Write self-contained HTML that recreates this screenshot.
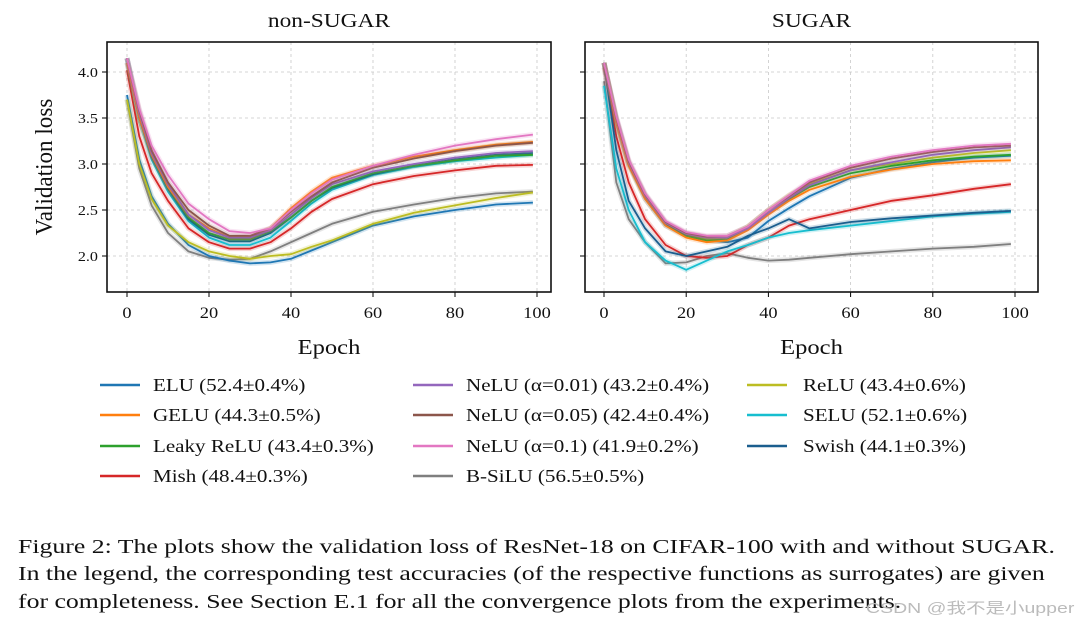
<!DOCTYPE html>
<html><head><meta charset="utf-8"><style>
body{margin:0;background:#fff;width:1080px;height:624px;overflow:hidden;font-family:"Liberation Serif",serif}
svg text{font-family:"Liberation Serif",serif;fill:#111}
.cap{position:absolute;left:18px;font-size:20.5px;color:#111;white-space:nowrap;line-height:1;transform-origin:0 0;transform:scaleX(1.257)}
</style></head><body>
<svg id="fig" width="1080" height="624" style="position:absolute;left:0;top:0"></svg>
<div class="cap" style="top:537px">Figure 2: The plots show the validation loss of ResNet-18 on CIFAR-100 with and without SUGAR.</div>
<div class="cap" style="top:564px">In the legend, the corresponding test accuracies (of the respective functions as surrogates) are given</div>
<div class="cap" style="top:592px">for completeness. See Section E.1 for all the convergence plots from the experiments.</div>
<div style="position:absolute;left:866px;top:597px;font-size:15px;color:#bbb;font-family:'Liberation Sans','Noto Sans CJK SC',sans-serif;transform-origin:0 0;transform:scaleX(1.3)">CSDN @我不是小upper</div>
<script>
const epochs=[0,3,6,10,15,20,25,30,35,40,45,50,60,70,80,90,99];
const names=["ELU","GELU","Leaky ReLU","Mish","NeLU (α=0.01)","NeLU (α=0.05)","NeLU (α=0.1)","B-SiLU","ReLU","SELU","Swish"];
const accs=["52.4±0.4%","44.3±0.5%","43.4±0.3%","48.4±0.3%","43.2±0.4%","42.4±0.4%","41.9±0.2%","56.5±0.5%","43.4±0.6%","52.1±0.6%","44.1±0.3%"];
const colors=["#1f77b4","#ff7f0e","#2ca02c","#d62728","#9467bd","#8c564b","#e377c2","#7f7f7f","#bcbd22","#17becf","#1b5e8e"];
const yTicks=[2.0,2.5,3.0,3.5,4.0];
const xTicks=[0,20,40,60,80,100];
const nsELU=[3.75,3.05,2.65,2.35,2.12,2.0,1.95,1.92,1.93,1.97,2.06,2.15,2.33,2.43,2.5,2.56,2.58];
const nsGELU=[4.1,3.5,3.1,2.75,2.45,2.3,2.2,2.2,2.3,2.52,2.7,2.85,2.98,3.08,3.15,3.21,3.24];
const nsLeaky=[4.15,3.5,3.1,2.75,2.42,2.25,2.18,2.18,2.27,2.42,2.6,2.75,2.9,2.98,3.04,3.09,3.1];
const nsMish=[4.02,3.3,2.9,2.6,2.3,2.15,2.08,2.08,2.15,2.3,2.48,2.62,2.78,2.87,2.93,2.98,2.99];
const nsN01=[4.15,3.55,3.12,2.78,2.45,2.28,2.2,2.2,2.28,2.45,2.63,2.78,2.92,3.0,3.07,3.12,3.14];
const nsN05=[4.15,3.58,3.15,2.8,2.5,2.33,2.22,2.22,2.3,2.48,2.65,2.8,2.96,3.06,3.14,3.2,3.23];
const nsN1=[4.15,3.6,3.2,2.88,2.57,2.4,2.27,2.25,2.3,2.5,2.68,2.83,2.98,3.1,3.2,3.27,3.32];
const nsBSiLU=[3.7,2.95,2.55,2.25,2.05,1.98,1.96,1.97,2.05,2.15,2.25,2.35,2.48,2.56,2.63,2.68,2.7];
const nsReLU=[3.7,3.0,2.62,2.33,2.15,2.05,2.0,1.97,2.0,2.02,2.1,2.17,2.35,2.47,2.55,2.63,2.69];
const nsSELU=[4.15,3.5,3.05,2.7,2.38,2.2,2.12,2.12,2.2,2.38,2.57,2.72,2.88,2.97,3.03,3.07,3.1];
const nsSwish=[4.1,3.5,3.08,2.73,2.4,2.23,2.16,2.16,2.25,2.42,2.6,2.74,2.89,2.98,3.05,3.1,3.12];
const sgELU=[4.1,3.45,3.0,2.62,2.33,2.22,2.17,2.15,2.2,2.38,2.52,2.65,2.85,2.95,3.02,3.07,3.09];
const sgGELU=[4.1,3.45,2.98,2.62,2.33,2.2,2.15,2.17,2.28,2.45,2.6,2.72,2.86,2.94,3.0,3.03,3.04];
const sgLeaky=[4.1,3.48,3.0,2.65,2.35,2.22,2.17,2.18,2.3,2.47,2.62,2.75,2.9,2.98,3.04,3.08,3.1];
const sgMish=[4.05,3.3,2.8,2.4,2.12,2.0,1.98,2.0,2.12,2.2,2.33,2.4,2.5,2.6,2.66,2.73,2.78];
const sgN01=[4.1,3.5,3.02,2.66,2.36,2.24,2.2,2.2,2.3,2.47,2.63,2.77,2.93,3.02,3.1,3.15,3.18];
const sgN05=[4.1,3.5,3.03,2.67,2.37,2.25,2.21,2.22,2.32,2.5,2.65,2.8,2.96,3.06,3.13,3.18,3.2];
const sgN1=[4.1,3.52,3.05,2.68,2.38,2.26,2.22,2.22,2.32,2.5,2.66,2.82,2.98,3.08,3.15,3.2,3.22];
const sgBSiLU=[3.9,2.8,2.4,2.15,1.92,1.93,2.0,2.03,1.98,1.95,1.96,1.98,2.02,2.05,2.08,2.1,2.13];
const sgReLU=[4.1,3.48,3.02,2.65,2.35,2.23,2.18,2.2,2.32,2.5,2.66,2.78,2.93,3.0,3.07,3.12,3.15];
const sgSELU=[3.85,2.95,2.5,2.15,1.95,1.85,1.95,2.05,2.12,2.2,2.25,2.28,2.33,2.38,2.43,2.46,2.48];
const sgSwish=[4.1,3.15,2.6,2.3,2.05,2.0,2.05,2.1,2.22,2.3,2.4,2.3,2.37,2.41,2.44,2.47,2.49];
const nsSeries=[nsELU,nsGELU,nsLeaky,nsMish,nsN01,nsN05,nsN1,nsBSiLU,nsReLU,nsSELU,nsSwish];
const sgSeries=[sgELU,sgGELU,sgLeaky,sgMish,sgN01,sgN05,sgN1,sgBSiLU,sgReLU,sgSELU,sgSwish];

const NS="http://www.w3.org/2000/svg";
const svg=document.getElementById('fig');
function mk(tag,attrs,parent){const e=document.createElementNS(NS,tag);for(const k in attrs)e.setAttribute(k,attrs[k]);(parent||svg).appendChild(e);return e;}
function stretch(t,x,y,s){t.setAttribute('transform','translate('+x+','+y+') scale('+s+',1) translate('+(-x)+','+(-y)+')');}
const Y=v=>256-(v-2.0)*92;
function panel(title,x0,x1,boxL,boxR,series,showY,key){
  const X=e=>x0+(e/100)*(x1-x0);
  const g=mk('g',{});
  
  
  const top=42,bot=292;
  yTicks.forEach(t=>{const l=mk('line',{x1:boxL,x2:boxR,y1:Y(t),y2:Y(t),stroke:'#c8c8c8','stroke-dasharray':'3,3','stroke-width':0.8},g);
    
    mk('line',{x1:boxL-5,x2:boxL,y1:Y(t),y2:Y(t),stroke:'#000','stroke-width':1},g);
    if(showY){const tx=mk('text',{x:boxL-9,y:Y(t)+5,'text-anchor':'end','font-size':14},g);tx.textContent=t.toFixed(1);
      stretch(tx,boxL-9,Y(t),1.15);
      }});
  xTicks.forEach(t=>{const l=mk('line',{x1:X(t),x2:X(t),y1:top,y2:bot,stroke:'#c8c8c8','stroke-dasharray':'3,3','stroke-width':0.8},g);
    
    mk('line',{x1:X(t),x2:X(t),y1:bot,y2:bot+5,stroke:'#000','stroke-width':1},g);
    const tx=mk('text',{x:X(t),y:bot+26,'text-anchor':'middle','font-size':16},g);tx.textContent=t;
    stretch(tx,X(t),bot+26,1.15);
    });
  const clip=mk('clipPath',{id:'c'+key},g);mk('rect',{x:boxL,y:top,width:boxR-boxL,height:bot-top},clip);
  const order=[7,0,8,3,9,10,2,1,4,5,6];
  order.forEach(i=>{const d=series[i].map((v,j)=>(j?'L':'M')+X(epochs[j]).toFixed(1)+','+Y(v).toFixed(1)).join('');
    const halo=mk('path',{d:d,fill:'none',stroke:colors[i],'stroke-opacity':0.2,'stroke-width':5,'clip-path':'url(#c'+key+')'},g);
    
    const p=mk('path',{d:d,fill:'none',stroke:colors[i],'stroke-width':1.8,'stroke-linejoin':'round','clip-path':'url(#c'+key+')'},g);
    
    });
  const fr=mk('rect',{x:boxL,y:top,width:boxR-boxL,height:bot-top,fill:'none',stroke:'#111','stroke-width':1.6},g);
  
  const cx=(boxL+boxR)/2;
  const tt=mk('text',{x:cx,y:27,'text-anchor':'middle','font-size':20},g);tt.textContent=title;
  stretch(tt,cx,27,1.17);
  
  const xl=mk('text',{x:cx,y:354,'text-anchor':'middle','font-size':21},g);xl.textContent='Epoch';
  stretch(xl,cx,354,1.17);
  
}
panel('non-SUGAR',127,537,107,551,nsSeries,true,'non-sugar');
panel('SUGAR',604,1015,585,1038,sgSeries,false,'sugar');
const yl=mk('text',{x:0,y:0,'text-anchor':'middle','font-size':21,transform:'translate(52,167) rotate(-90) scale(1.1,1.15)'});
yl.textContent='Validation loss';


// legend
const cols=[[100,153],[413,466],[747,803]];
const layout=[[0,0],[0,1],[0,2],[0,3],[1,0],[1,1],[1,2],[1,3],[2,0],[2,1],[2,2]];
const rowsY=[385,415,446,476];
names.forEach((n,i)=>{const [c,r]=layout[i];const g=mk('g',{});
  
  
  mk('line',{x1:cols[c][0],x2:cols[c][0]+40,y1:rowsY[r],y2:rowsY[r],stroke:colors[i],'stroke-width':2.5},g);
  const t=mk('text',{x:cols[c][1],y:rowsY[r]+6,'font-size':18},g);t.textContent=n+' ('+accs[i]+')';
  stretch(t,cols[c][1],rowsY[r],1.17);});
</script>
</body></html>
